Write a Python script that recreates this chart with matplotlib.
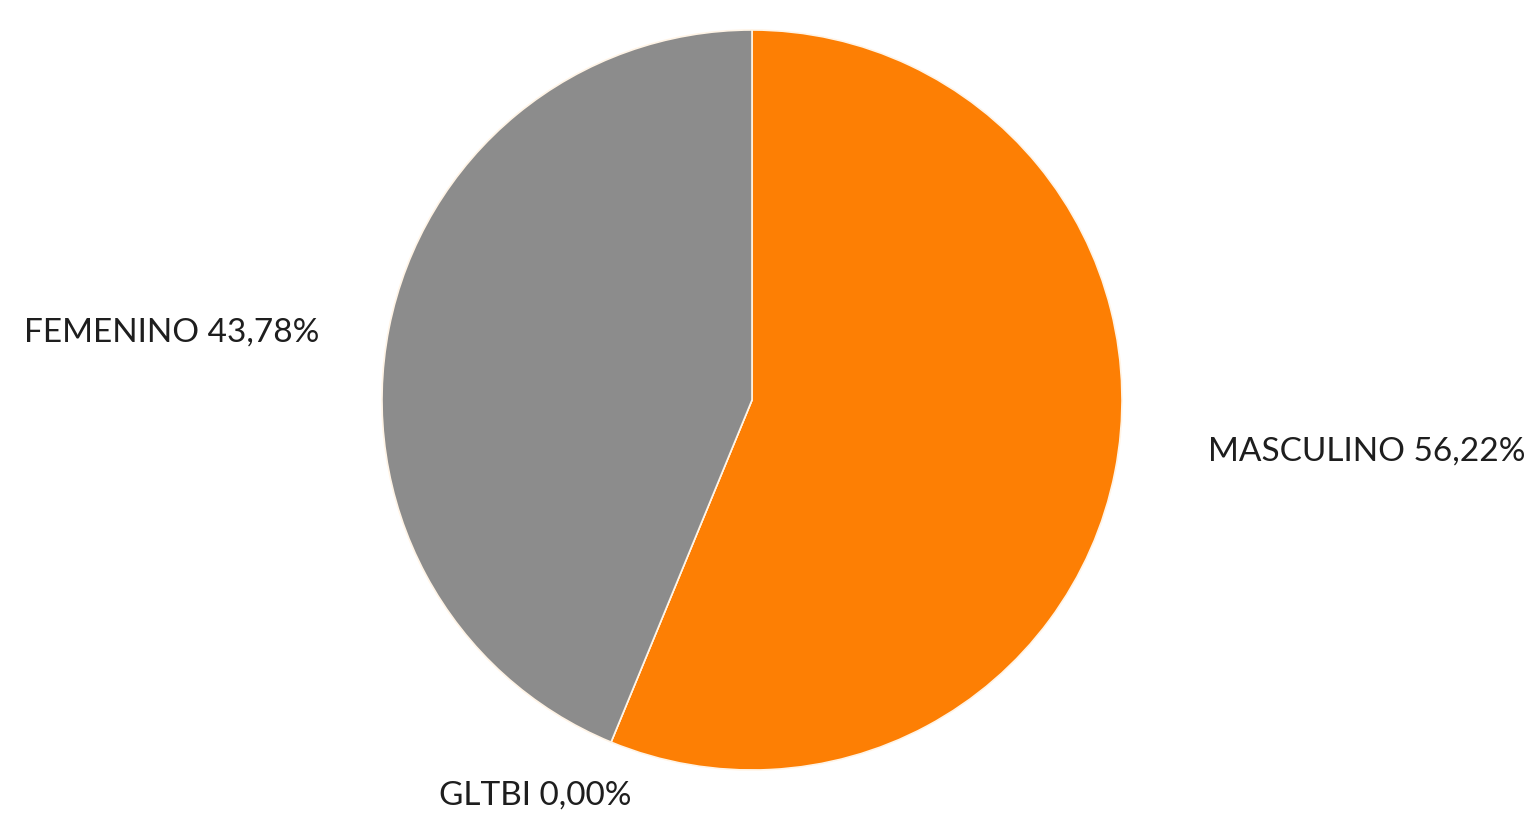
import matplotlib.pyplot as plt

# datos
labels = ['MASCULINO', 'GLTBI', 'FEMENINO']
values = [56.22, 0.00, 43.78]
colors = ['#fd7f04', '#fd7f04', '#8c8c8c']
label_pos = [(1367, 452), (535, 796), (172, 333)]

W, H = 1534, 815
fig = plt.figure(figsize=(W / 100, H / 100), dpi=100)
ax = fig.add_axes([0, 0, 1, 1])

ax.pie(values, colors=colors, startangle=90, counterclock=False,
       center=(752, H - 400), radius=370, frame=True,
       wedgeprops=dict(edgecolor='#fff4e6', linewidth=1.2))
ax.set_xlim(0, W)
ax.set_ylim(0, H)
ax.axis('off')

for name, v, (x, y) in zip(labels, values, label_pos):
    txt = f'{name} {v:.2f}%'.replace('.', ',')
    ax.text(x, H - y, txt, ha='center', va='center', fontsize=24,
            family='Lato', color='#1e1e1e')

plt.savefig('out.png', dpi=100)
